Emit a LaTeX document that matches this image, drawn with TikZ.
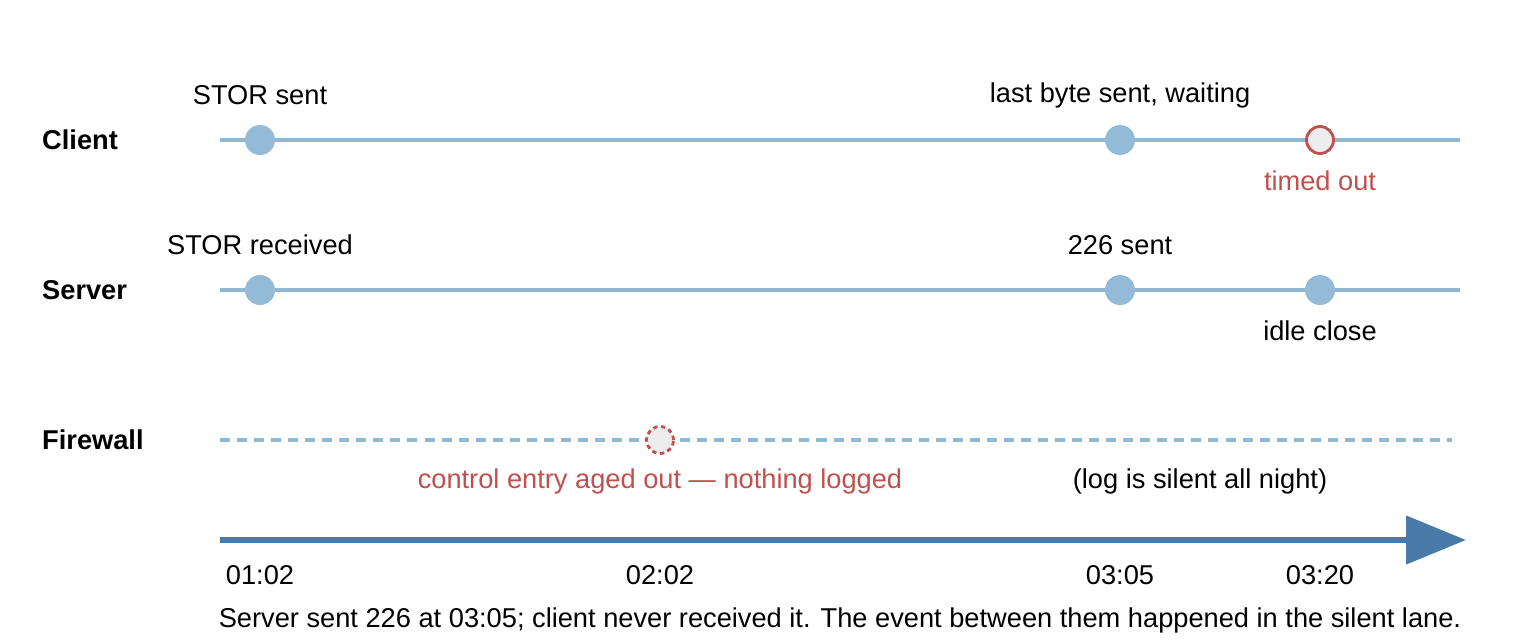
\documentclass[tikz,border=0pt]{standalone}
\usepackage{fontspec}
\setmainfont{Liberation Sans}
\usetikzlibrary{arrows.meta}
\definecolor{lane}{HTML}{8FB8D3}
\definecolor{dot}{HTML}{93BBD8}
\definecolor{dred}{HTML}{C0504D}
\definecolor{axis}{HTML}{4A7AA8}

\begin{document}
\begin{tikzpicture}[x=0.02cm,y=-0.02cm,
                    every node/.style={font=\fontsize{15.5}{18}\selectfont},
                    lanename/.style={anchor=west,font=\fontsize{15.5}{18}\selectfont\bfseries},
                    event/.style={circle,fill=dot,minimum size=0.6cm,inner sep=0pt},
                    lost/.style={circle,draw=dred,fill=gray!15,line width=1.6pt,minimum size=0.54cm,inner sep=0pt},
                    laneline/.style={draw=lane,line width=2.2pt}]
  \useasboundingbox (0,0) rectangle (1520,640);

  % lanes
  \node[lanename] (client) at (36,140) {Client};
  \node[lanename] (server) at (36,290) {Server};
  \node[lanename] (fw) at (36,440) {Firewall};

  \coordinate (c0) at (220,140); \coordinate (c1) at (1460,140);
  \coordinate (s0) at (220,290); \coordinate (s1) at (1460,290);
  \coordinate (f0) at (220,440); \coordinate (f1) at (1452,440);
  \draw[laneline] (c0) -- (c1);
  \draw[laneline] (s0) -- (s1);
  \draw[laneline,dash pattern=on 5.7pt off 4pt] (f0) -- (f1);

  % events
  \node[event] (stor) at (260,140) {};
  \node[event] (last) at (1120,140) {};
  \node[lost] (tout) at (1320,140) {};
  \node[event] (recv) at (260,290) {};
  \node[event] (sent) at (1120,290) {};
  \node[event] (idle) at (1320,290) {};
  \node[lost,dash pattern=on 2.5pt off 2pt] (aged) at (660,440) {};

  \node at (260,95) {STOR sent};
  \node at (1120,95) {last byte sent, waiting};
  \node[text=dred] at (1320,181) {timed out};
  \node at (260,245) {STOR received};
  \node at (1120,245) {226 sent};
  \node at (1320,331) {idle close};
  \node[text=dred] at (660,481) {control entry aged out — nothing logged};
  \node (quiet) at (1200,481) {(log is silent all night)};

  % time axis
  \coordinate (t0) at (220,540); \coordinate (t1) at (1466,540);
  \draw[axis,line width=3.5pt,-{Triangle[length=1.2cm,width=0.95cm]}] (t0) -- (t1);
  \node (t102) at (260,575) {01:02};
  \node (t202) at (660,575) {02:02};
  \node (t305) at (1120,575) {03:05};
  \node (t320) at (1320,575) {03:20};
  \node (note) at (840,620) {Server sent 226 at 03:05; client never received it. The event between them happened in the silent lane.};
\end{tikzpicture}
\end{document}
